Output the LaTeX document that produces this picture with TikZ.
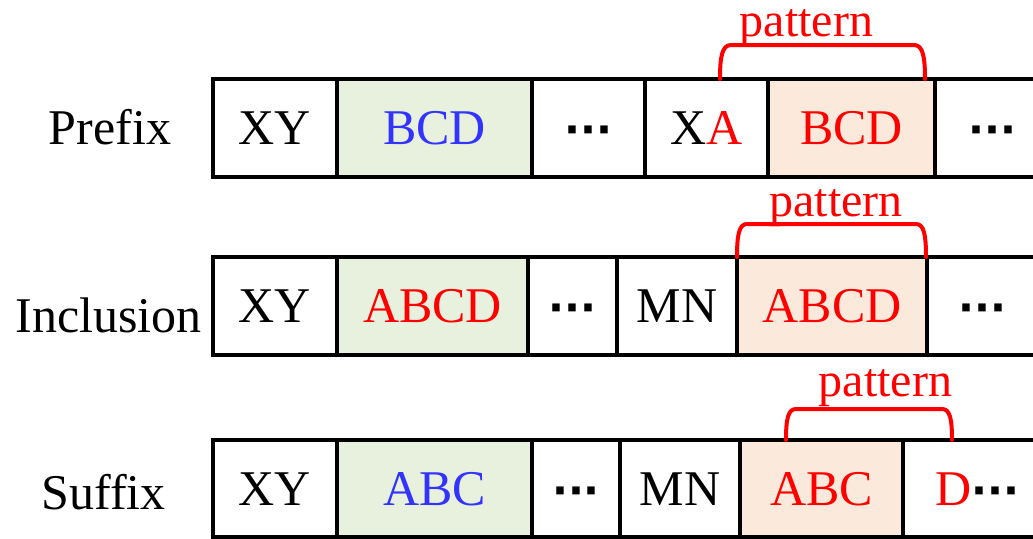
\documentclass[tikz,border=0pt]{standalone}
\usepackage{fontspec}
\setmainfont{Liberation Serif}
\newfontfamily\dotfont{DejaVu Sans}
\definecolor{myred}{HTML}{FF0000}
\definecolor{myblue}{HTML}{3333FF}
\definecolor{mygreen}{HTML}{E8F0DE}
\definecolor{myorange}{HTML}{FBEADB}
\newcommand\mydots{{\dotfont\bfseries\fontsize{21}{25}\selectfont ···}}
\begin{document}
\begin{tikzpicture}[x=0.5pt,y=-0.5pt,
  cell/.style={draw=black, line width=2pt, inner sep=0pt, outer sep=0pt,
    minimum height=49pt, text height=16.5pt, text depth=0pt,
    font=\fontsize{25}{30}\selectfont, anchor=west},
  gcell/.style={cell, fill=mygreen},
  ocell/.style={cell, fill=myorange},
  rowlabel/.style={anchor=base, inner sep=0pt, font=\fontsize{25}{30}\selectfont},
  brace/.style={draw=myred, line width=2pt, line cap=round, line join=round},
  patlabel/.style={anchor=base, inner sep=0pt, text=myred, font=\fontsize{24}{28}\selectfont}]
\useasboundingbox (0,0) rectangle (1033,538);
\clip (0,0) rectangle (1033,538);

% Row 1: Prefix
\node[rowlabel] (l1) at (110,144) {Prefix};
\node[cell, anchor=north west, minimum width=62pt] (c11) at (213,79) {XY};
\node[gcell, minimum width=97.5pt] (c12) at (c11.east) {\textcolor{myblue}{BCD}};
\node[cell, minimum width=56.5pt] (c13) at (c12.east) {\mydots};
\node[cell, minimum width=61.5pt] (c14) at (c13.east) {X\textcolor{myred}{A}};
\node[ocell, minimum width=83.5pt] (c15) at (c14.east) {\textcolor{myred}{BCD}};
\node[cell, minimum width=57pt] (c16) at (c15.east) {\mydots};
\coordinate (b1l) at (720,79);
\coordinate (b1r) at (925,79);
\draw[brace] (b1l) .. controls (720,57) and (722,45) .. (731,45) -- (914,45) .. controls (923,45) and (925,57) .. (b1r);
\node[patlabel] (p1) at (806.5,36) {pattern};

% Row 2: Inclusion
\node[rowlabel] (l2) at (108.5,332) {Inclusion};
\node[cell, anchor=north west, minimum width=62pt] (c21) at (213,257) {XY};
\node[gcell, minimum width=95.5pt] (c22) at (c21.east) {\textcolor{myred}{ABCD}};
\node[cell, minimum width=44.5pt] (c23) at (c22.east) {\mydots};
\node[cell, minimum width=60pt] (c24) at (c23.east) {MN};
\node[ocell, minimum width=95pt] (c25) at (c24.east) {\textcolor{myred}{ABCD}};
\node[cell, minimum width=55pt] (c26) at (c25.east) {\mydots};
\coordinate (b2l) at (737,257);
\coordinate (b2r) at (926,257);
\draw[brace] (b2l) .. controls (737,235) and (739,224) .. (747,224) -- (916,224) .. controls (924,224) and (926,235) .. (b2r);
\node[patlabel] (p2) at (836,216) {pattern};

% Row 3: Suffix
\node[rowlabel] (l3) at (103.5,509) {Suffix};
\node[cell, anchor=north west, minimum width=62pt, minimum height=48.5pt] (c31) at (213,440) {XY};
\node[gcell, minimum width=97.5pt, minimum height=48.5pt] (c32) at (c31.east) {\textcolor{myblue}{ABC}};
\node[cell, minimum width=44pt, minimum height=48.5pt] (c33) at (c32.east) {\mydots};
\node[cell, minimum width=60pt, minimum height=48.5pt] (c34) at (c33.east) {MN};
\node[ocell, minimum width=81.5pt, minimum height=48.5pt] (c35) at (c34.east) {\textcolor{myred}{ABC}};
\node[cell, minimum width=74.5pt, minimum height=48.5pt] (c36) at (c35.east) {\textcolor{myred}{D}\mydots};
\coordinate (b3l) at (786,440);
\coordinate (b3r) at (952,440);
\draw[brace] (b3l) .. controls (786,419) and (788,409) .. (796,409) -- (942,409) .. controls (950,409) and (952,419) .. (b3r);
\node[patlabel] (p3) at (885.5,396) {pattern};
\end{tikzpicture}
\end{document}
